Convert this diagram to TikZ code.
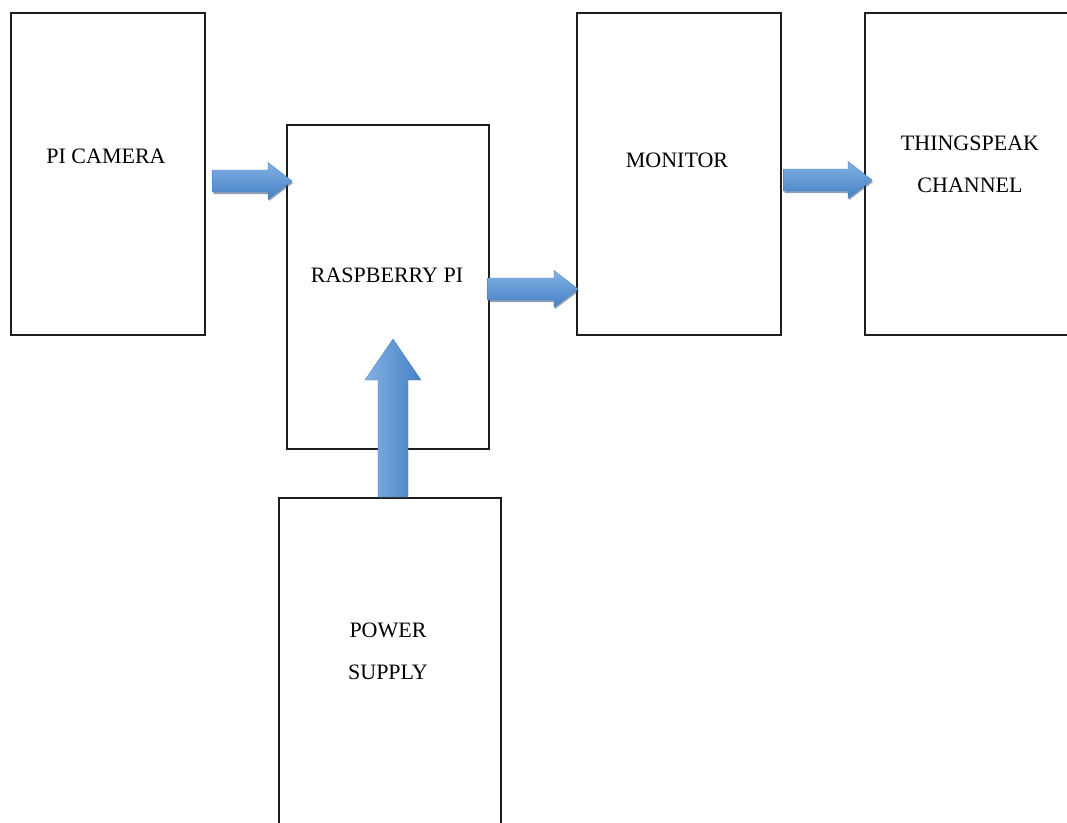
\documentclass[tikz,border=0pt]{standalone}
\usepackage{fontspec}
\setmainfont{Liberation Serif}
\usetikzlibrary{calc}
\definecolor{arrtop}{RGB}{130,178,228}
\definecolor{arrbot}{RGB}{68,128,196}
\definecolor{arrline}{RGB}{80,130,190}
\definecolor{arrshadow}{RGB}{40,70,110}
\definecolor{boxline}{RGB}{30,30,30}
\tikzset{
  box/.style={draw=boxline, line width=1.6pt, anchor=north west, inner sep=0pt},
  lbl/.style={font=\fontsize{22}{42}\selectfont, align=center, inner sep=0pt},
  arrfill/.style={top color=arrtop, bottom color=arrbot, draw=arrline, line width=0.4pt},
  arrfillv/.style={left color=arrtop, right color=arrbot, draw=arrline, line width=0.4pt},
  arrshade/.style={fill=arrshadow, fill opacity=0.5, draw=none},
}
% horizontal block arrow from #1 (tail) to #2 (tip)
\newcommand\hblock[2]{%
  \path[arrshade] let \p1=(#1), \p2=(#2) in
    (\x1+1,\y1-13) -- (\x2-23,\y1-13) -- (\x2-23,\y1-20) -- (\x2+1,\y1-2) -- (\x2-23,\y1+16) -- (\x2-23,\y1+9) -- (\x1+1,\y1+9) -- cycle;
  \path[arrfill] let \p1=(#1), \p2=(#2) in
    (\x1,\y1+11) -- (\x2-24,\y1+11) -- (\x2-24,\y1+18.5) -- (\x2,\y1) -- (\x2-24,\y1-18.5) -- (\x2-24,\y1-11) -- (\x1,\y1-11) -- cycle;
}
% vertical (upward) block arrow from #1 (tail) to #2 (tip)
\newcommand\vblock[2]{%
  \path[arrfillv] let \p1=(#1), \p2=(#2) in
    (\x1-15,\y1) -- (\x1-15,\y2-41) -- (\x1-28,\y2-41) -- (\x1,\y2) -- (\x1+28,\y2-41) -- (\x1+15,\y2-41) -- (\x1+15,\y1) -- cycle;
}
\begin{document}
\begin{tikzpicture}[x=1pt,y=-1pt]
\useasboundingbox (0,0) rectangle (1067,822);
\fill[white] (0,0) rectangle (1067,822);

% boxes
\node[box, minimum width=194pt, minimum height=322pt] (cam) at (10,12) {};
\node[box, minimum width=202pt, minimum height=324pt] (rpi) at (286,124) {};
\node[box, minimum width=204pt, minimum height=322pt] (mon) at (576,12) {};
\node[box, minimum width=220pt, minimum height=322pt] (ts) at (864,12) {};
\node[box, minimum width=222pt, minimum height=340pt] (ps) at (278,497) {};

% labels
\node[lbl] (camL) at (106,156) {PI CAMERA};
\node[lbl] (rpiL) at (387,275) {RASPBERRY PI};
\node[lbl] (monL) at (677,160) {MONITOR};
\node[lbl] (tsL) at (970,164.5) {THINGSPEAK\\CHANNEL};
\node[lbl] (psL) at (388,651.5) {POWER\\SUPPLY};

% connector end points
\coordinate (a1s) at ($(cam.east |- 0,181)+(7,0)$);
\coordinate (a1e) at ($(rpi.west |- 0,181)+(6,0)$);
\coordinate (a2s) at ($(rpi.east |- 0,289)+(-2,0)$);
\coordinate (a2e) at ($(mon.west |- 0,289)+(2,0)$);
\coordinate (a3s) at ($(mon.east |- 0,180)+(2,0)$);
\coordinate (a3e) at ($(ts.west |- 0,180)+(8,0)$);
\coordinate (a4s) at ($(ps.north -| 393,0)$);
\coordinate (a4e) at (393,339);

% arrows
\hblock{a1s}{a1e}
\hblock{a2s}{a2e}
\hblock{a3s}{a3e}
\vblock{a4s}{a4e}
\end{tikzpicture}
\end{document}
